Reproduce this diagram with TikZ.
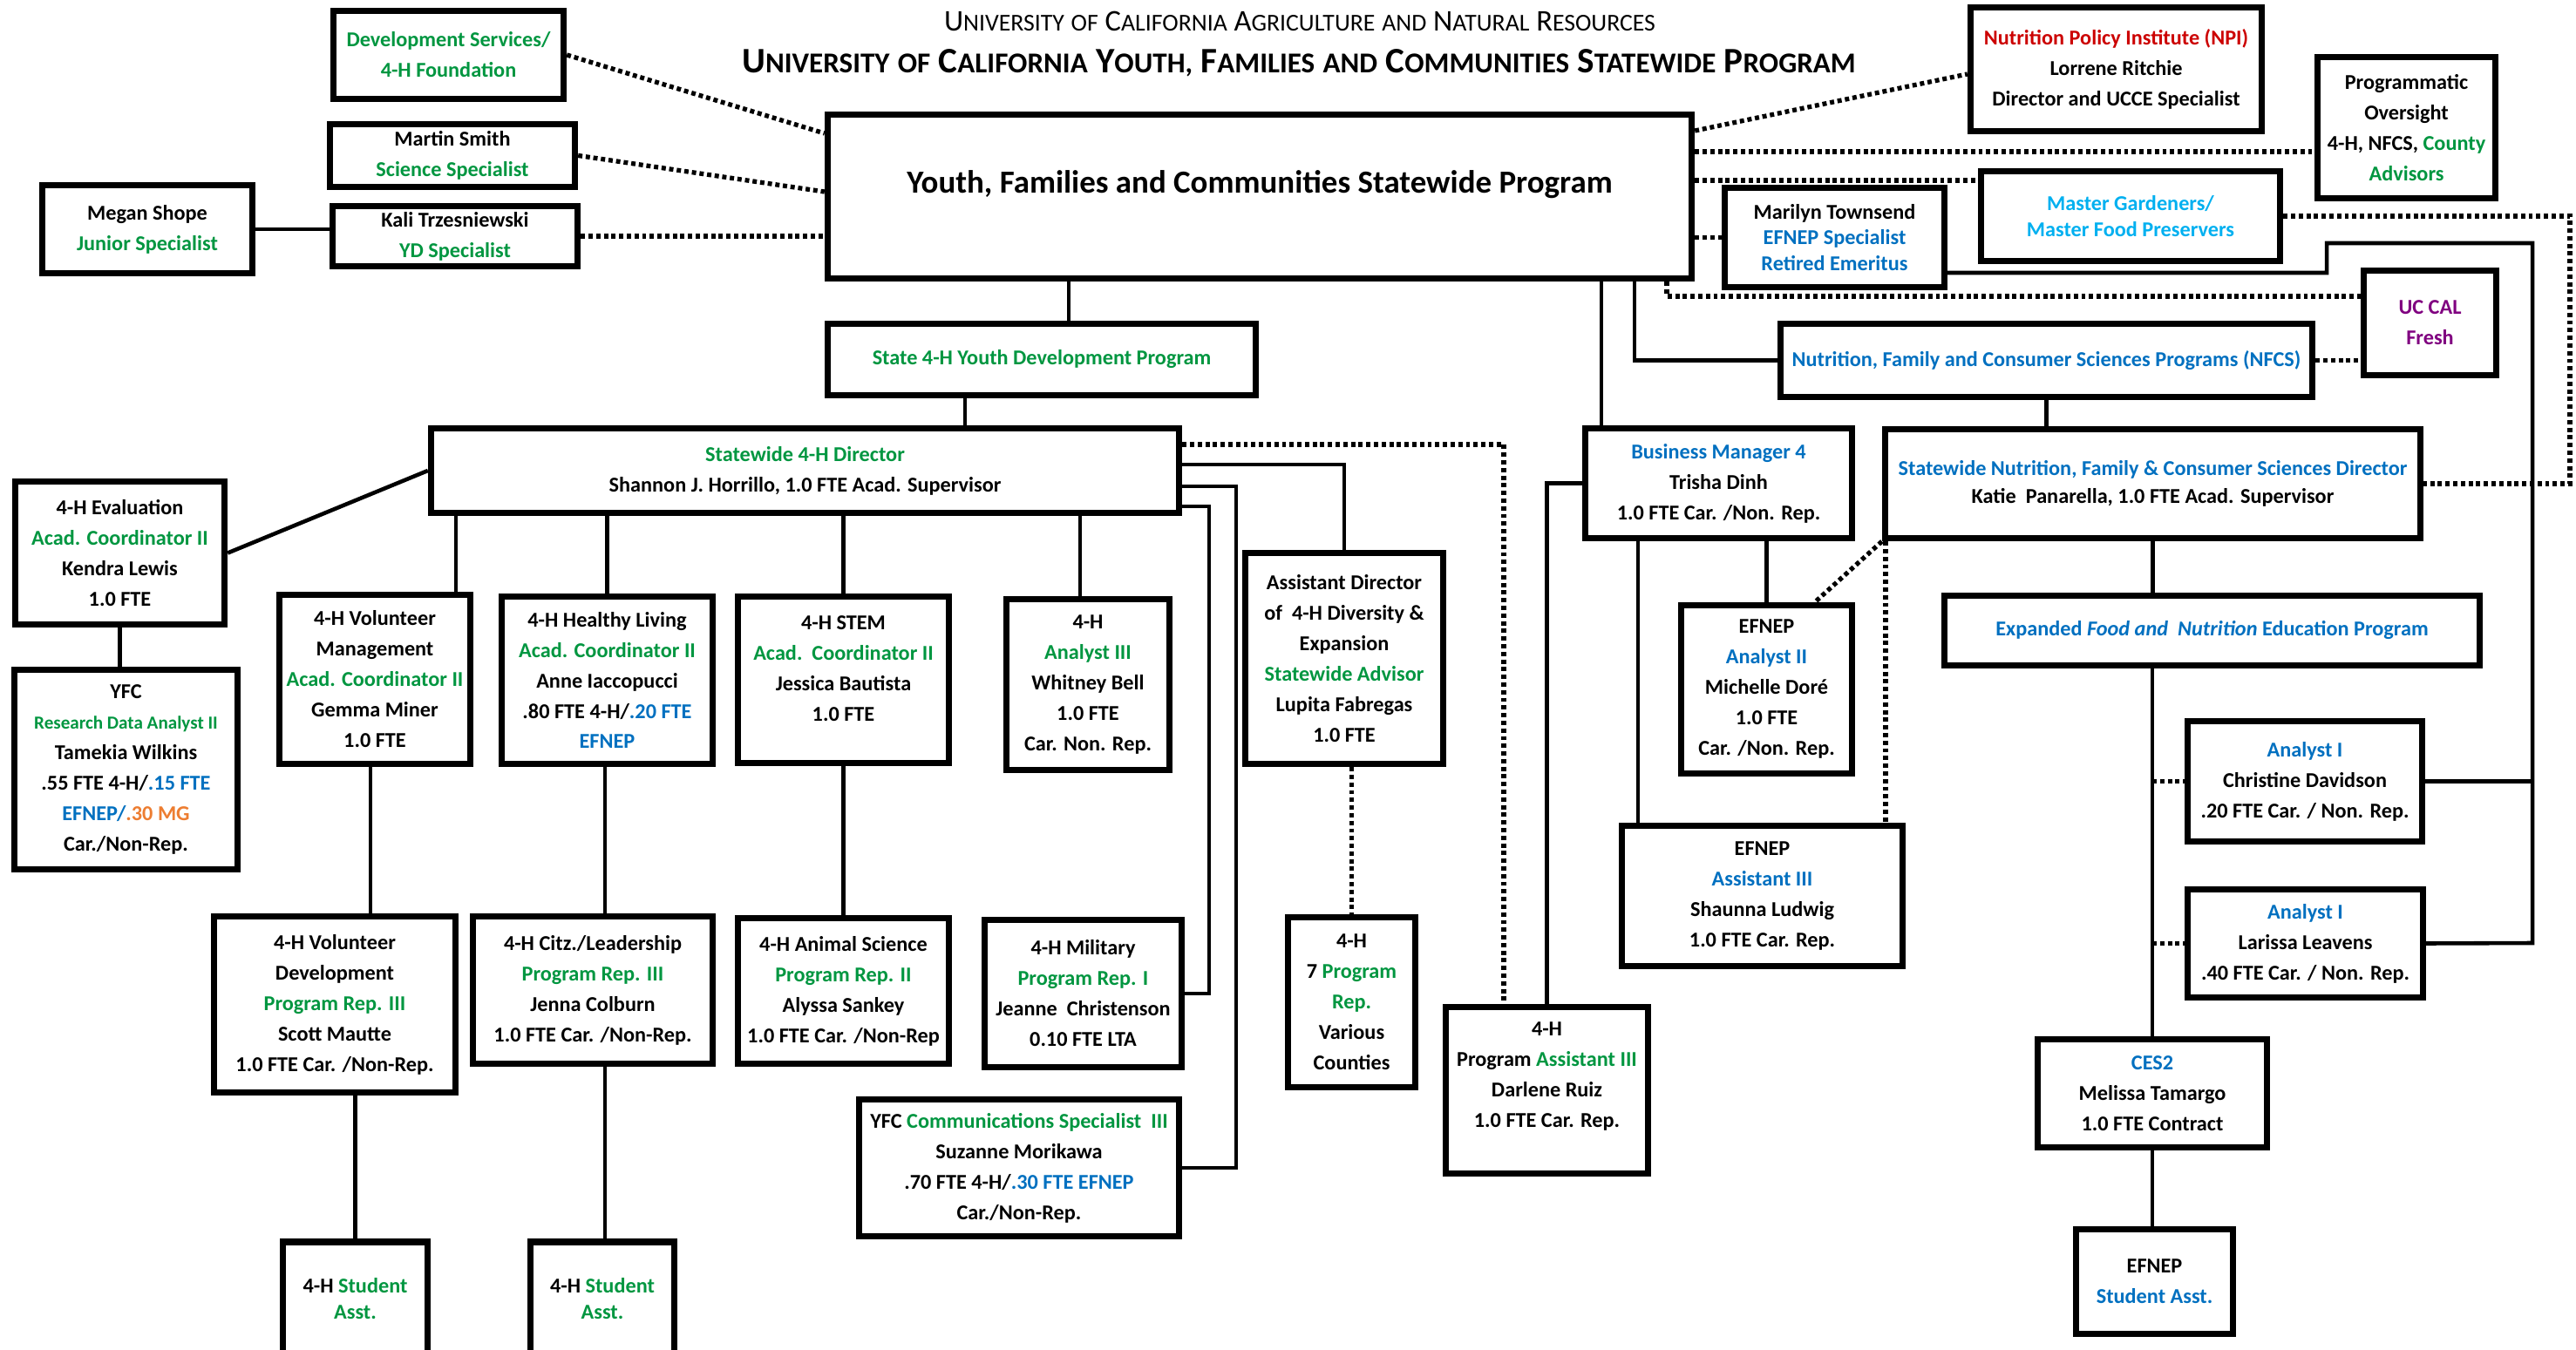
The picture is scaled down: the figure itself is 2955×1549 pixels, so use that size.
\documentclass[tikz,border=0pt]{standalone}
\usepackage{fontspec}
\setmainfont{Carlito}
\definecolor{ucgreen}{RGB}{0,150,64}
\definecolor{ucblue}{RGB}{0,112,192}
\definecolor{uccyan}{RGB}{0,176,240}
\definecolor{ucred}{RGB}{204,0,0}
\definecolor{ucpurple}{RGB}{128,0,128}
\definecolor{ucorange}{RGB}{237,125,49}
\newcommand\grn[1]{\textcolor{ucgreen}{#1}}
\newcommand\blu[1]{\textcolor{ucblue}{#1}}
\newcommand\org[1]{\textcolor{ucorange}{#1}}
\newcommand\scA[2]{#1{\fontsize{7.9}{9}\selectfont #2}}
\newcommand\scB[2]{#1{\fontsize{9.4}{11}\selectfont #2}}
\tikzset{
  box/.style={draw, line width=2.1pt, fill=white, align=center, inner sep=1pt,
    font=\bfseries\fontsize{6.9}{9.95}\selectfont},
  tight/.style={font=\bfseries\fontsize{6.9}{8.3}\selectfont},
  sz/.style 2 args={minimum width=#1*0.01cm, minimum height=#2*0.01cm},
  lift/.style={text depth=#1},
  conn/.style={line width=1.3pt},
  dotline/.style={line width=1.5pt, dash pattern=on 1.4pt off 1.1pt},
}
\begin{document}
\begin{tikzpicture}[x=0.01cm,y=-0.01cm]
    \useasboundingbox (0,0) rectangle (2955,1549);
    % titles
    \node[font=\fontsize{9.8}{11}\selectfont] (uctitle) at (1491,24)
      {\scA{U}{NIVERSITY} \scA{}{OF} \scA{C}{ALIFORNIA} \scA{A}{GRICULTURE} \scA{}{AND} \scA{N}{ATURAL} \scA{R}{ESOURCES}};
    \node[font=\bfseries\fontsize{11.7}{13}\selectfont] (yfctitle) at (1490,72)
      {\scB{U}{NIVERSITY} \scB{}{OF} \scB{C}{ALIFORNIA} \scB{Y}{OUTH,} \scB{F}{AMILIES} \scB{}{AND} \scB{C}{OMMUNITIES} \scB{S}{TATEWIDE} \scB{P}{ROGRAM}};

    % top row
    \node[box,sz={264}{101}] (dev) at (514.5,63) {\grn{Development Services/}\\\grn{4-H Foundation}};
    \node[box,sz={281}{72}] (martin) at (519,178.5) {Martin Smith\\\grn{Science Specialist}};
    \node[box,sz={281}{69}] (kali) at (522,271) {Kali Trzesniewski\\\grn{YD Specialist}};
    \node[box,sz={241}{101}] (megan) at (169,263) {Megan Shope\\\grn{Junior Specialist}};
    \node[box,sz={991}{188},lift=0.33cm,font=\bfseries\fontsize{10.5}{12}\selectfont] (main) at (1445,225.5)
      {Youth, Families and Communities Statewide Program};
    \node[box,sz={334}{142}] (npi) at (2427.5,79.5) {\textcolor{ucred}{Nutrition Policy Institute (NPI)}\\Lorrene Ritchie\\Director and UCCE Specialist};
    \node[box,sz={204}{162}] (oversight) at (2760.5,146.5) {Programmatic\\Oversight\\4-H, NFCS, \grn{County}\\\grn{Advisors}};
    \node[box,tight,sz={252}{114}] (marilyn) at (2104.5,272.5) {Marilyn Townsend\\\blu{EFNEP Specialist}\\\blu{Retired Emeritus}};
    \node[box,tight,sz={343}{103}] (mg) at (2444,248) {\textcolor{uccyan}{Master Gardeners/}\\\textcolor{uccyan}{Master Food Preservers}};
    \node[box,sz={152}{120}] (calfresh) at (2787.5,370.5) {\textcolor{ucpurple}{UC CAL}\\\textcolor{ucpurple}{Fresh}};
    \node[box,sz={610}{84}] (nfcs) at (2347.5,413.5) {\blu{Nutrition, Family and Consumer Sciences Programs (NFCS)}};
    \node[box,sz={491}{82}] (stateyd) at (1195,412.5) {\grn{State 4-H Youth Development Program}};

    % directors
    \node[box,sz={858}{97}] (dir4h) at (923.5,540) {\grn{Statewide 4-H Director}\\Shannon J. Horrillo, 1.0 FTE Acad. Supervisor};
    \node[box,sz={306}{126}] (busmgr) at (1971.5,554.5) {\blu{Business Manager 4}\\Trisha Dinh\\1.0 FTE Car. /Non. Rep.};
    \node[box,font=\bfseries\fontsize{6.9}{8.9}\selectfont,sz={614}{125}] (nfcsdir) at (2469.5,555)
      {\blu{Statewide Nutrition, Family \& Consumer Sciences Director}\\Katie\ \ Panarella, 1.0 FTE Acad. Supervisor};

    % 4-H staff
    \node[box,sz={240}{164}] (eval) at (137.5,634.5) {4-H Evaluation\\\grn{Acad. Coordinator II}\\Kendra Lewis\\1.0 FTE};
    \node[box,sz={256}{229}] (rda) at (144.5,883) {YFC\\\grn{\fontsize{6}{9.95}\selectfont Research Data Analyst II}\\Tamekia Wilkins\\.55 FTE 4-H/\blu{.15 FTE}\\\blu{EFNEP/}\org{.30 MG}\\Car./Non-Rep.};
    \node[box,sz={219}{194}] (volmgmt) at (430,779.5) {4-H Volunteer\\Management\\\grn{Acad. Coordinator II}\\Gemma Miner\\1.0 FTE};
    \node[box,sz={242}{192}] (healthy) at (696.5,780.5) {4-H Healthy Living\\\grn{Acad. Coordinator II}\\Anne Iaccopucci\\.80 FTE 4-H/\blu{.20 FTE}\\\blu{EFNEP}};
    \node[box,sz={242}{191},lift=0.25cm] (stem) at (967.5,780) {4-H STEM\\\grn{Acad.\ \ Coordinator II}\\Jessica Bautista\\1.0 FTE};
    \node[box,sz={187}{196}] (analyst4h) at (1248,785.5) {4-H\\\grn{Analyst III}\\Whitney Bell\\1.0 FTE\\Car. Non. Rep.};
    \node[box,sz={227}{242}] (asstdir) at (1542,755.5) {Assistant Director\\of\ \ 4-H Diversity \&\\Expansion\\\grn{Statewide Advisor}\\Lupita Fabregas\\1.0 FTE};
    \node[box,sz={277}{202}] (voldev) at (384,1152.5) {4-H Volunteer\\Development\\\grn{Program Rep. III}\\Scott Mautte\\1.0 FTE Car. /Non-Rep.};
    \node[box,sz={275}{169}] (citz) at (680,1136) {4-H Citz./Leadership\\\grn{Program Rep. III}\\Jenna Colburn\\1.0 FTE Car. /Non-Rep.};
    \node[box,sz={242}{167}] (animal) at (967.5,1137) {4-H Animal Science\\\grn{Program Rep. II}\\Alyssa Sankey\\1.0 FTE Car. /Non-Rep};
    \node[box,sz={226}{169}] (military) at (1242.5,1140) {4-H Military\\\grn{Program Rep. I}\\Jeanne\ \ Christenson\\0.10 FTE LTA};
    \node[box,sz={367}{157}] (comms) at (1169,1340) {YFC \grn{Communications Specialist\ \ III}\\Suzanne Morikawa\\.70 FTE 4-H/\blu{.30 FTE EFNEP}\\Car./Non-Rep.};
    \node[box,sz={146}{195}] (sevenrep) at (1550.5,1150) {4-H\\7 \grn{Program}\\\grn{Rep.}\\Various\\Counties};
    \node[box,sz={232}{191},lift=0.35cm] (progasst3) at (1774.5,1251) {4-H\\Program \grn{Assistant III}\\Darlene Ruiz\\1.0 FTE Car. Rep.};
    \node[box,tight,sz={166}{130}] (stu1) at (407.5,1490) {4-H \grn{Student}\\\grn{Asst.}};
    \node[box,tight,sz={165}{130}] (stu2) at (691,1490) {4-H \grn{Student}\\\grn{Asst.}};

    % NFCS staff
    \node[box,sz={196}{193}] (analyst2) at (2026.5,791) {EFNEP\\\blu{Analyst II}\\Michelle Dor\'e\\1.0 FTE\\Car. /Non. Rep.};
    \node[box,sz={614}{80}] (efnepprog) at (2537.5,723.5) {\blu{Expanded \textit{Food and\ \ Nutrition} Education Program}};
    \node[box,sz={269}{138}] (christine) at (2644,896.5) {\blu{Analyst I}\\Christine Davidson\\.20 FTE Car. / Non. Rep.};
    \node[box,sz={270}{124}] (larissa) at (2644.5,1082.5) {\blu{Analyst I}\\Larissa Leavens\\.40 FTE Car. / Non. Rep.};
    \node[box,sz={322}{161}] (asst3) at (2021.5,1028) {EFNEP\\\blu{Assistant III}\\Shaunna Ludwig\\1.0 FTE Car. Rep.};
    \node[box,sz={263}{124}] (ces2) at (2469,1254.5) {\blu{CES2}\\Melissa Tamargo\\1.0 FTE Contract};
    \node[box,sz={180}{120}] (efnepstu) at (2471.5,1470.5) {EFNEP\\\blu{Student Asst.}};

    % links to the statewide program
    \draw[dotline] (dev.east) -- (main.west |- 0,153);
    \draw[dotline] (martin.east) -- (main.west |- 0,220);
    \draw[dotline] (kali.east) -- (main.west |- kali.east);
    \draw[conn] (megan.east) -- (kali.west |- megan.east);
    \draw[dotline] (main.east |- 0,150) -- (npi.west |- 0,85);
    \draw[dotline] (main.east |- 0,174) -- (oversight.west |- 0,174);
    \draw[dotline] (main.east |- 0,207) -- (mg.west |- 0,207);
    \draw[dotline] (main.east |- marilyn.west) -- (marilyn.west);
    \draw[dotline] (mg.east) -- (mg.east -| 2948,0) |- (nfcsdir.east);
    \draw[conn] (marilyn.east |- 0,313) -| (2669,279) -| (2905,1082) -- (larissa.east);
    \draw[conn] (christine.east) -- (christine.east -| 2905,0);
    \draw[dotline] (main.south -| 1912,0) |- (calfresh.west |- 0,340);
    \draw[dotline] (nfcs.east) -- (calfresh.west |- nfcs.east);
    \draw[conn] (main.south -| 1875,0) |- (nfcs.west);
    \draw[conn] (main.south -| 1837,0) -- (busmgr.north -| 1837,0);
    \draw[conn] (main.south -| 1226,0) -- (stateyd.north -| 1226,0);
    \draw[conn] (stateyd.south -| 1107,0) -- (dir4h.north -| 1107,0);
    \draw[conn] (nfcs.south) -- (nfcsdir.north -| nfcs.south);

    % 4-H director
    \draw[conn] (dir4h.west) -- (eval.east);
    \draw[conn] (eval.south) -- (rda.north -| eval.south);
    \draw[conn] (dir4h.south -| 523,0) -- (volmgmt.north -| 523,0);
    \draw[conn] (dir4h.south -| healthy.north) -- (healthy.north);
    \draw[conn] (dir4h.south -| stem.north) -- (stem.north);
    \draw[conn] (dir4h.south -| 1239,0) -- (analyst4h.north -| 1239,0);
    \draw[dotline] (dir4h.east |- 0,510) -| (progasst3.north -| 1725,0);
    \draw[conn] (dir4h.east |- 0,533) -| (asstdir.north);
    \draw[conn] (dir4h.east |- 0,558) -| (comms.east -| 1418,0) -- (comms.east);
    \draw[conn] (dir4h.east |- 0,581) -| (military.east -| 1387,0) -- (military.east);
    \draw[dotline] (asstdir.south -| sevenrep.north) -- (sevenrep.north);
    \draw[conn] (volmgmt.south -| 425,0) -- (voldev.north -| 425,0);
    \draw[conn] (voldev.south -| stu1.north) -- (stu1.north);
    \draw[conn] (healthy.south -| 694,0) -- (citz.north -| 694,0);
    \draw[conn] (citz.south -| 694,0) -- (stu2.north -| 694,0);
    \draw[conn] (stem.south) -- (animal.north);

    % business manager and NFCS director
    \draw[conn] (busmgr.west) -| (progasst3.north);
    \draw[conn] (busmgr.south -| 1879,0) -- (asst3.north -| 1879,0);
    \draw[conn] (busmgr.south -| analyst2.north) -- (analyst2.north);
    \draw[dotline] (nfcsdir.south west) -- (analyst2.north -| 2082,0);
    \draw[dotline] (nfcsdir.south -| 2163,0) -- (asst3.north -| 2163,0);
    \draw[conn] (nfcsdir.south) -- (efnepprog.north -| nfcsdir.south);
    \draw[conn] (efnepprog.south -| ces2.north) -- (ces2.north);
    \draw[dotline] (christine.west -| ces2.north) -- (christine.west);
    \draw[dotline] (larissa.west -| ces2.north) -- (larissa.west);
    \draw[conn] (ces2.south) -- (efnepstu.north -| ces2.south);

\end{tikzpicture}
\end{document}
